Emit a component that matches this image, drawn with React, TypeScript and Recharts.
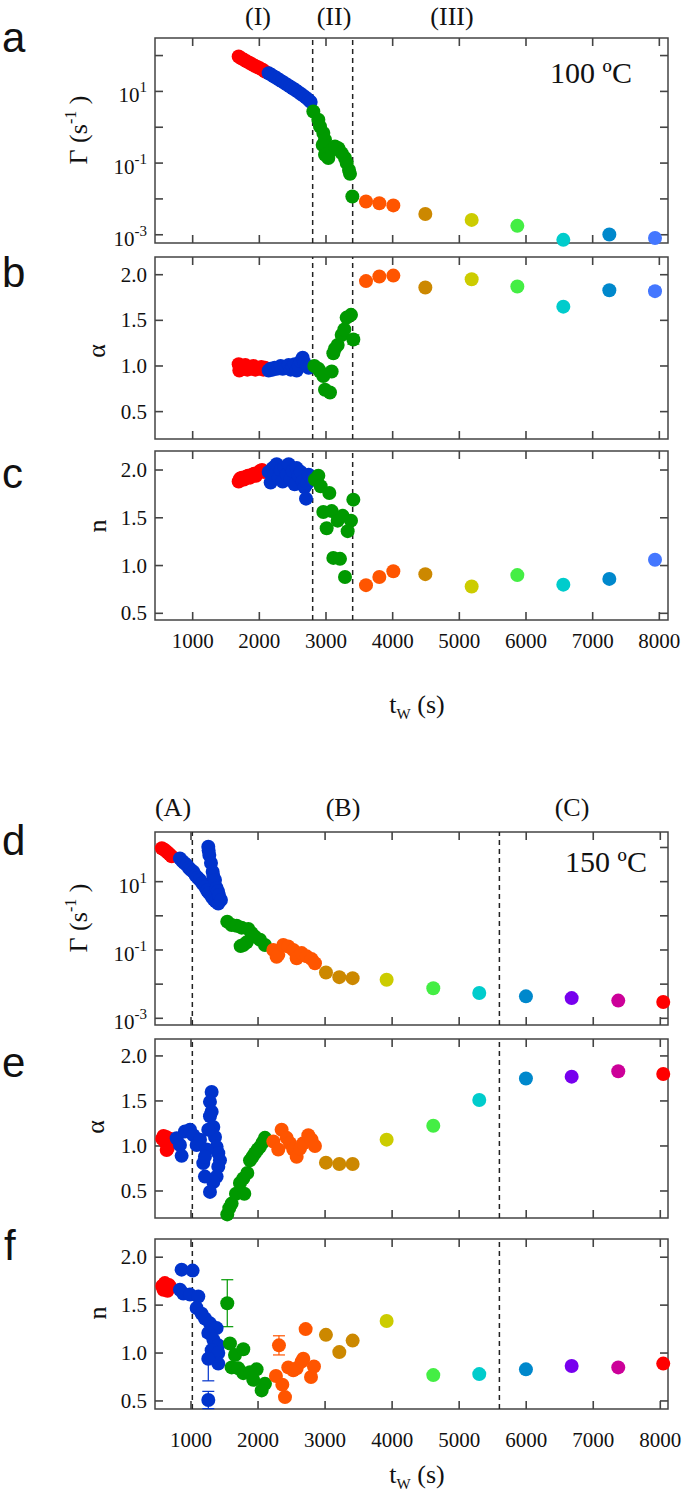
import { ScatterChart, Scatter, XAxis, YAxis, ReferenceLine, ReferenceArea, ErrorBar } from 'recharts'

const SERIF = '"Liberation Serif", "Times New Roman", serif'
const SANS = '"Liberation Sans", Arial, sans-serif'
const AXIS = '#444'

const RED = '#ff0000'
const BLUE = '#0033cc'
const GREEN = '#009900'
const ORANGE = '#ff5500'
const GOLD = '#cc8800'
const YELLOW = '#cccc00'
const LIME = '#44ee44'
const CYAN = '#00cccc'
const AZURE = '#0088cc'
const SKY = '#4477ff'
const VIOLET = '#7700ee'
const MAGENTA = '#cc0099'

const xTicks = [1000, 2000, 3000, 4000, 5000, 6000, 7000, 8000]
const logTicks = [0.001, 0.01, 0.1, 1, 10, 100]
const linTicks = [0.5, 1.0, 1.5, 2.0]

// ---- 100 ºC (panels a, b, c) ----
const dashes100 = [2800, 3400]
const lateT100 = [3600, 3800, 4010, 4490, 5185, 5870, 6560, 7250, 7935]
const lateColors100 = [ORANGE, ORANGE, ORANGE, GOLD, YELLOW, LIME, CYAN, AZURE, SKY]
const gammaLate100 = [0.0085, 0.0076, 0.0066, 0.0038, 0.0026, 0.00177, 0.00072, 0.00102, 0.00081]
const alphaLate100 = [1.93, 1.98, 1.99, 1.86, 1.95, 1.87, 1.65, 1.83, 1.82]
const alphaLateErr100 = [0, 0, 0, 0, 0, 0, 0, 0, 0.04]
const nLate100 = [0.795, 0.88, 0.94, 0.91, 0.78, 0.9, 0.8, 0.86, 1.06]

const gammaRed100 = [[1690, 94], [1730, 84], [1770, 76], [1810, 69], [1850, 63], [1890, 57], [1930, 52], [1970, 48], [2010, 44], [2050, 40], [2085, 36]]
const gammaBlue100 = [[2140, 32], [2180, 29], [2220, 26], [2260, 23.5], [2300, 21], [2340, 19], [2380, 17], [2420, 15.2], [2460, 13.6], [2500, 12.2], [2540, 10.9], [2580, 9.7], [2620, 8.6], [2660, 7.6], [2700, 6.7], [2740, 5.8], [2770, 5.1]]
const gammaGreen100 = [[2810, 2.75], [2885, 1.62], [2910, 1.05], [2960, 0.69], [2985, 0.45], [2950, 0.32], [2985, 0.17], [3035, 0.138], [3085, 0.23], [3135, 0.29], [3185, 0.26], [3235, 0.19], [3285, 0.138], [3310, 0.1], [3345, 0.064], [3360, 0.05], [3395, 0.0117]]

const alphaRed100 = [[1690, 1.02], [1700, 0.95], [1730, 1.0], [1760, 0.97], [1790, 1.01], [1820, 0.96], [1850, 0.99], [1880, 0.97], [1910, 1.0], [1940, 0.96], [1970, 0.98], [2000, 0.97], [2030, 0.99], [2060, 0.96], [2085, 0.98]]
const alphaBlue100 = [[2140, 0.95], [2170, 0.97], [2200, 0.96], [2230, 0.98], [2260, 0.97], [2290, 0.98], [2320, 1.0], [2350, 0.97], [2380, 0.99], [2410, 0.98], [2440, 1.01], [2470, 0.96], [2500, 0.99], [2530, 1.02], [2560, 0.95], [2590, 1.0], [2620, 1.05], [2650, 1.09], [2680, 1.03], [2710, 1.0], [2740, 0.98]]
const alphaGreen100 = [[2825, 1.0], [2885, 0.97], [2910, 0.94], [2960, 0.89], [3085, 0.94], [2985, 0.74], [3060, 0.71], [3110, 1.14], [3135, 1.19], [3175, 1.23], [3235, 1.34], [3275, 1.4], [3310, 1.53], [3375, 1.56]]
const alphaGreenErr100 = [[3410, 1.29, 0.05]]

const nRed100 = [[1690, 1.88], [1710, 1.91], [1740, 1.92], [1770, 1.9], [1800, 1.93], [1830, 1.94], [1860, 1.92], [1890, 1.95], [1920, 1.96], [1950, 1.94], [1980, 1.97], [2010, 1.99], [2040, 2.0], [2070, 1.98]]
const nBlue100 = [[2140, 1.98], [2170, 1.87], [2200, 2.02], [2230, 1.95], [2260, 2.06], [2290, 1.92], [2320, 2.0], [2350, 1.88], [2380, 2.03], [2410, 1.95], [2440, 2.06], [2470, 1.9], [2500, 1.99], [2530, 1.85], [2560, 2.02], [2590, 1.94], [2620, 1.98], [2650, 1.88], [2680, 1.82], [2700, 1.7], [2720, 1.86], [2740, 1.95]]
const nGreen100 = [[2835, 1.9], [2885, 1.94], [2920, 1.83], [3050, 1.76], [2960, 1.56], [3085, 1.57], [3010, 1.39], [3175, 1.47], [3250, 1.52], [3375, 1.47], [3325, 1.36], [3110, 1.08], [3210, 1.07], [3285, 0.88], [3410, 1.69]]

// ---- 150 ºC (panels d, e, f) ----
const dashes150 = [1020, 5600]
const lateT150 = [3013, 3212, 3411, 3918, 4614, 5300, 5996, 6678, 7373, 8044]
const lateColors150 = [GOLD, GOLD, GOLD, YELLOW, LIME, CYAN, AZURE, VIOLET, MAGENTA, RED]
const gammaLate150 = [0.022, 0.016, 0.015, 0.0135, 0.0076, 0.0055, 0.0044, 0.0039, 0.0033, 0.003]
const alphaLate150 = [0.815, 0.8, 0.8, 1.07, 1.225, 1.51, 1.75, 1.77, 1.83, 1.8]
const nLate150 = [1.19, 1.01, 1.13, 1.335, 0.77, 0.78, 0.83, 0.865, 0.85, 0.89]

const gammaRed150 = [[565, 95], [595, 88], [625, 79], [655, 70], [685, 62], [712, 55]]
const gammaBlue150 = [[835, 48], [870, 40], [900, 35], [935, 31], [970, 25], [1000, 22], [1034, 19.5], [1070, 15], [1100, 13], [1134, 11.2], [1170, 9], [1208, 7.1], [1240, 5.5], [1270, 4.6], [1308, 3.6], [1340, 3.0], [1370, 2.6], [1407, 2.3], [1258, 105], [1263, 81], [1273, 60], [1298, 35], [1323, 19.5], [1333, 14.7], [1358, 11.2], [1382, 6.5], [1402, 5.2], [1417, 4.1], [1447, 2.9]]
const gammaGreen150 = [[1541, 0.676], [1606, 0.54], [1681, 0.51], [1755, 0.45], [1855, 0.41], [1904, 0.31], [1954, 0.245], [2029, 0.2], [2103, 0.14], [1780, 0.14], [1830, 0.167], [1740, 0.13]]
const gammaOrange150 = [[2228, 0.1], [2277, 0.063], [2302, 0.072], [2377, 0.14], [2451, 0.126], [2526, 0.1], [2576, 0.057], [2650, 0.081], [2725, 0.065], [2799, 0.054], [2849, 0.041]]

const alphaRed150 = [[570, 1.08], [590, 1.11], [610, 1.05], [630, 1.1], [637, 0.955], [650, 0.97], [665, 1.04], [685, 1.08], [700, 1.06]]
const alphaBlue150 = [[786, 1.085], [835, 1.01], [860, 0.89], [910, 1.16], [985, 1.18], [1034, 1.12], [1084, 1.01], [1134, 1.07], [1308, 1.6], [1283, 1.49], [1308, 1.38], [1283, 1.33], [1333, 1.21], [1358, 1.1], [1382, 0.99], [1407, 0.92], [1432, 0.84], [1407, 0.77], [1382, 0.66], [1333, 0.6], [1283, 0.49], [1208, 0.66], [1183, 0.81], [1233, 0.96], [1258, 1.18], [1208, 0.88]]
const alphaGreen150 = [[1541, 0.24], [1571, 0.31], [1606, 0.36], [1671, 0.47], [1730, 0.59], [1780, 0.64], [1795, 0.47], [1840, 0.7], [1880, 0.84], [1919, 0.88], [1954, 0.92], [1994, 0.96], [2029, 0.99], [2069, 1.04], [2103, 1.09]]
const alphaOrange150 = [[2228, 1.05], [2302, 0.96], [2352, 1.18], [2427, 1.09], [2476, 1.03], [2526, 0.96], [2576, 0.88], [2625, 0.97], [2675, 1.03], [2750, 1.12], [2799, 1.07], [2849, 1.0]]

const nRed150 = [[570, 1.7], [590, 1.66], [610, 1.73], [630, 1.68], [650, 1.65], [670, 1.71], [690, 1.69]]
const nBlue150 = [[860, 1.87], [1024, 1.86], [835, 1.66], [885, 1.62], [985, 1.61], [1109, 1.59], [1084, 1.47], [1159, 1.41], [1208, 1.36], [1283, 1.31], [1382, 1.26], [1258, 1.21], [1333, 1.14], [1407, 1.08], [1308, 1.03], [1407, 1.0], [1407, 0.89]]
const nBlueErr150 = [[1258, 0.94, 0.23], [1258, 0.51, 0.09]]
const nGreen150 = [[1581, 1.1], [1656, 0.98], [1780, 1.04], [1606, 0.85], [1706, 0.84], [1780, 0.79], [1880, 0.8], [1979, 0.83], [1929, 0.72], [2103, 0.68], [2054, 0.61]]
const nGreenErr150 = [[1541, 1.52, 0.245]]
const nOrange150 = [[2267, 0.76], [2362, 0.67], [2402, 0.54], [2451, 0.85], [2526, 0.82], [2576, 0.84], [2650, 0.91], [2675, 0.94], [2710, 1.25], [2790, 0.75], [2834, 0.86]]
const nOrangeErr150 = [[2312, 1.08, 0.1]]

type Pt = { t: number; v: number; e?: number }
type Group = { color: string; pts: Pt[] }

const toPts = (rows: number[][]): Pt[] => rows.map(([t, v, e]) => ({ t, v, e }))
const lateGroups = (ts: number[], vs: number[], colors: string[], errs?: number[]): Group[] =>
  ts.map((t, i) => ({ color: colors[i], pts: [{ t, v: vs[i], e: errs && errs[i] ? errs[i] : undefined }] }))

const PAD_T = 10
const PLOT_W = 513
const TICK_LEN = 8

const xLabel = (gap: number) => (p: any) => (
  <text x={p.x} y={p.y + gap} textAnchor="middle" fontFamily={SERIF} fontSize={21} fill="#111">
    {p.payload.value}
  </text>
)

const yLabel = (log: boolean) => (p: any) => {
  const x = p.x - 8
  const v = p.payload.value as number
  if (log) {
    const k = Math.round(Math.log10(v))
    if (k % 2 === 0) return <g />
    return (
      <text x={x} y={p.y + 11} textAnchor="end" fontFamily={SERIF} fontSize={21} fill="#111">
        10<tspan dy={-10} fontSize={15}>{k}</tspan>
      </text>
    )
  }
  return (
    <text x={x} y={p.y + 7} textAnchor="end" fontFamily={SERIF} fontSize={21} fill="#111">
      {v.toFixed(1)}
    </text>
  )
}

type PanelProps = {
  top: number
  bottom: number
  log?: boolean
  yDomain: [number, number]
  xDomain: [number, number]
  dashes: number[]
  groups: Group[]
  labelGap?: number
  padB: number
}

function Panel({ top, bottom, log = false, yDomain, xDomain, dashes, groups, labelGap, padB }: PanelProps) {
  const plotH = bottom - top
  const [x0, x1] = xDomain
  const [y0, y1] = yDomain
  const yTicks = log ? logTicks : linTicks
  // inward tick marks on all four sides, as short segments in data units
  const dx = (TICK_LEN * (x1 - x0)) / PLOT_W
  const yUp = (y: number) => (log ? y * Math.pow(y1 / y0, TICK_LEN / plotH) : y + (TICK_LEN * (y1 - y0)) / plotH)
  const yDown = (y: number) => (log ? y / Math.pow(y1 / y0, TICK_LEN / plotH) : y - (TICK_LEN * (y1 - y0)) / plotH)
  const segs: { x: number; y: number }[][] = [
    ...xTicks.map((t) => [{ x: t, y: y0 }, { x: t, y: yUp(y0) }]),
    ...xTicks.map((t) => [{ x: t, y: y1 }, { x: t, y: yDown(y1) }]),
    ...yTicks.map((v) => [{ x: x0, y: v }, { x: x0 + dx, y: v }]),
    ...yTicks.map((v) => [{ x: x1, y: v }, { x: x1 - dx, y: v }]),
  ]
  return (
    <div style={{ position: 'absolute', left: 0, top: top - PAD_T }}>
      <ScatterChart width={685} height={plotH + PAD_T + padB} margin={{ top: PAD_T, right: 685 - 155 - PLOT_W, bottom: 0, left: 0 }}>
        <XAxis
          type="number"
          dataKey="t"
          domain={xDomain}
          ticks={xTicks}
          interval={0}
          height={padB}
          axisLine={false}
          tickLine={false}
          tickSize={0}
          tickMargin={0}
          tick={labelGap !== undefined ? xLabel(labelGap) : false}
        />
        <YAxis
          type="number"
          dataKey="v"
          scale={log ? 'log' : 'linear'}
          domain={yDomain}
          ticks={yTicks}
          interval={0}
          width={155}
          axisLine={false}
          tickLine={false}
          tickSize={0}
          tickMargin={0}
          tick={yLabel(log)}
        />
        {groups.map((g, i) => (
          <Scatter
            key={i}
            data={g.pts}
            fill={g.color}
            isAnimationActive={false}
            shape={(p: any) => <circle cx={p.cx} cy={p.cy} r={7} fill={g.color} />}
          >
            {g.pts.some((q) => q.e) && <ErrorBar dataKey="e" direction="y" width={6} stroke={g.color} strokeWidth={1.2} />}
          </Scatter>
        ))}
        {dashes.map((d) => (
          <ReferenceLine key={d} x={d} stroke="#222" strokeWidth={1.5} strokeDasharray="5 4" />
        ))}
        {segs.map((s, i) => (
          <ReferenceLine key={'s' + i} segment={s} stroke={AXIS} strokeWidth={1.6} />
        ))}
        <ReferenceArea x1={x0} x2={x1} y1={y0} y2={y1} fill="none" fillOpacity={0} stroke={AXIS} strokeWidth={1.5} />
      </ScatterChart>
    </div>
  )
}

const X100: [number, number] = [435, 8130]
const X150: [number, number] = [463, 8115]

const YTitle = ({ x, y, children }: { x: number; y: number; children: any }) => (
  <text x={x} y={y} transform={`rotate(-90 ${x} ${y})`} textAnchor="middle" fontFamily={SERIF} fontSize={26} fill="#111">
    {children}
  </text>
)

const Gamma = ({ y }: { y: number }) => (
  <YTitle x={87} y={y}>
    Γ (s<tspan dy={-11} fontSize={16}>-1</tspan>
    <tspan dy={11}> )</tspan>
  </YTitle>
)

const TwTitle = ({ y }: { y: number }) => (
  <text x={417} y={y} textAnchor="middle" fontFamily={SERIF} fontSize={26} fill="#111">
    t<tspan dy={6} fontSize={15}>W</tspan>
    <tspan dy={-6}> (s)</tspan>
  </text>
)

export default function App() {
  const a: Group[] = [
    { color: RED, pts: toPts(gammaRed100) },
    { color: BLUE, pts: toPts(gammaBlue100) },
    { color: GREEN, pts: toPts(gammaGreen100) },
    ...lateGroups(lateT100, gammaLate100, lateColors100),
  ]
  const b: Group[] = [
    { color: RED, pts: toPts(alphaRed100) },
    { color: BLUE, pts: toPts(alphaBlue100) },
    { color: GREEN, pts: toPts(alphaGreen100) },
    { color: GREEN, pts: toPts(alphaGreenErr100) },
    ...lateGroups(lateT100, alphaLate100, lateColors100, alphaLateErr100),
  ]
  const c: Group[] = [
    { color: RED, pts: toPts(nRed100) },
    { color: BLUE, pts: toPts(nBlue100) },
    { color: GREEN, pts: toPts(nGreen100) },
    ...lateGroups(lateT100, nLate100, lateColors100),
  ]
  const d: Group[] = [
    { color: RED, pts: toPts(gammaRed150) },
    { color: BLUE, pts: toPts(gammaBlue150) },
    { color: GREEN, pts: toPts(gammaGreen150) },
    { color: ORANGE, pts: toPts(gammaOrange150) },
    ...lateGroups(lateT150, gammaLate150, lateColors150),
  ]
  const e: Group[] = [
    { color: RED, pts: toPts(alphaRed150) },
    { color: BLUE, pts: toPts(alphaBlue150) },
    { color: GREEN, pts: toPts(alphaGreen150) },
    { color: ORANGE, pts: toPts(alphaOrange150) },
    ...lateGroups(lateT150, alphaLate150, lateColors150),
  ]
  const f: Group[] = [
    { color: RED, pts: toPts(nRed150) },
    { color: BLUE, pts: toPts(nBlue150) },
    { color: BLUE, pts: toPts(nBlueErr150) },
    { color: GREEN, pts: toPts(nGreen150) },
    { color: GREEN, pts: toPts(nGreenErr150) },
    { color: ORANGE, pts: toPts(nOrange150) },
    { color: ORANGE, pts: toPts(nOrangeErr150) },
    ...lateGroups(lateT150, nLate150, lateColors150),
  ]

  return (
    <div style={{ position: 'absolute', left: 0, top: 0, width: 685, height: 1496, background: '#fff' }}>
      <Panel top={38} bottom={243} log yDomain={[0.000589, 309]} xDomain={X100} dashes={dashes100} groups={a} padB={8} />
      <Panel top={257} bottom={439} yDomain={[0.2, 2.194]} xDomain={X100} dashes={dashes100} groups={b} padB={6} />
      <Panel top={451} bottom={620} yDomain={[0.43, 2.199]} xDomain={X100} dashes={dashes100} groups={c} padB={40} labelGap={28} />
      <Panel top={832} bottom={1025} log yDomain={[0.000637, 284]} xDomain={X150} dashes={dashes150} groups={d} padB={8} />
      <Panel top={1039} bottom={1218} yDomain={[0.2, 2.188]} xDomain={X150} dashes={dashes150} groups={e} padB={8} />
      <Panel top={1239} bottom={1409} yDomain={[0.416, 2.19]} xDomain={X150} dashes={dashes150} groups={f} padB={50} labelGap={38} />

      <svg width={685} height={1496} style={{ position: 'absolute', left: 0, top: 0, pointerEvents: 'none' }}>
        <g fontFamily={SANS} fontSize={42} fill="#111">
          <text x={2} y={52}>a</text>
          <text x={2} y={287}>b</text>
          <text x={2} y={488}>c</text>
          <text x={2} y={855}>d</text>
          <text x={2} y={1077}>e</text>
          <text x={4} y={1260}>f</text>
        </g>
        <g fontFamily={SERIF} fontSize={26} fill="#111" textAnchor="middle">
          <text x={258} y={25}>(I)</text>
          <text x={334} y={25}>(II)</text>
          <text x={452} y={25}>(III)</text>
          <text x={173} y={816}>(A)</text>
          <text x={343} y={816}>(B)</text>
          <text x={572} y={816}>(C)</text>
        </g>
        <g fontFamily={SERIF} fontSize={30} fill="#111" textAnchor="middle">
          <text x={591} y={83}>100 ºC</text>
          <text x={606} y={872}>150 ºC</text>
        </g>
        <Gamma y={130} />
        <YTitle x={105} y={351}>α</YTitle>
        <YTitle x={106} y={526}>n</YTitle>
        <Gamma y={918} />
        <YTitle x={104} y={1127}>α</YTitle>
        <YTitle x={106} y={1313}>n</YTitle>
        <TwTitle y={713} />
        <TwTitle y={1483} />
      </svg>
    </div>
  )
}
